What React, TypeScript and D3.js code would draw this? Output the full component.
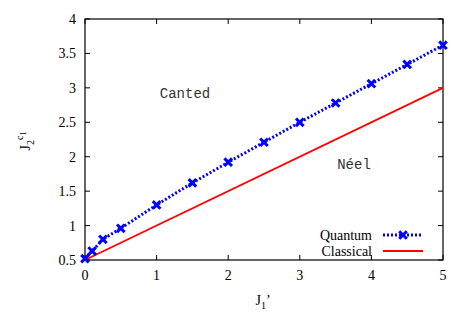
import React, { useRef, useEffect } from "react";
import * as d3 from "d3";

// J1' values and critical J2 (quantum result)
const quantumX = [0, 0.1, 0.25, 0.5, 1, 1.5, 2, 2.5, 3, 3.5, 4, 4.5, 5];
const quantumY = [0.52, 0.63, 0.8, 0.96, 1.3, 1.62, 1.92, 2.21, 2.5, 2.78, 3.06, 3.34, 3.62];

// classical line J2 = 0.5 + J1'/2
const classicalX = [0, 5];
const classicalY = [0.5, 3];

const xTicks = [0, 1, 2, 3, 4, 5];
const yTicks = [0.5, 1, 1.5, 2, 2.5, 3, 3.5, 4];

function App() {
  const svgRef = useRef<SVGSVGElement>(null);

  useEffect(() => {
    const svg = d3.select(svgRef.current);
    svg.selectAll("*").remove();

    const width = 467;
    const height = 327;
    const left = 85, right = 443, top = 19, bottom = 260;

    const x = d3.scaleLinear().domain([0, 5]).range([left, right]);
    const y = d3.scaleLinear().domain([0.5, 4]).range([bottom, top]);

    const serif = '"Liberation Serif", "Times New Roman", "DejaVu Serif", serif';
    const mono = '"Liberation Mono", "Courier New", monospace';

    svg.attr("width", width).attr("height", height);
    svg.append("rect").attr("width", width).attr("height", height).attr("fill", "white");

    // ticks (inward, mirrored)
    const tickLen = 5;
    xTicks.forEach((t) => {
      svg.append("line").attr("x1", x(t)).attr("x2", x(t))
        .attr("y1", bottom).attr("y2", bottom - tickLen).attr("stroke", "#000");
      svg.append("line").attr("x1", x(t)).attr("x2", x(t))
        .attr("y1", top).attr("y2", top + tickLen).attr("stroke", "#000");
      svg.append("text").attr("x", x(t)).attr("y", bottom + 20)
        .attr("text-anchor", "middle").style("font-family", serif)
        .style("font-size", "14px").attr("fill", "#000").text(t);
    });
    yTicks.forEach((t) => {
      svg.append("line").attr("x1", left).attr("x2", left + tickLen)
        .attr("y1", y(t)).attr("y2", y(t)).attr("stroke", "#000");
      svg.append("line").attr("x1", right).attr("x2", right - tickLen)
        .attr("y1", y(t)).attr("y2", y(t)).attr("stroke", "#000");
      svg.append("text").attr("x", left - 9).attr("y", y(t) + 5)
        .attr("text-anchor", "end").style("font-family", serif)
        .style("font-size", "14px").attr("fill", "#000").text(t);
    });

    // frame
    svg.append("rect").attr("x", left).attr("y", top)
      .attr("width", right - left).attr("height", bottom - top)
      .attr("fill", "none").attr("stroke", "#000").attr("stroke-width", 1.2);

    // axis labels
    const xl = svg.append("text").attr("x", 263).attr("y", 305)
      .attr("text-anchor", "middle").style("font-family", serif)
      .style("font-size", "14px").attr("fill", "#000");
    xl.append("tspan").text("J");
    xl.append("tspan").style("font-size", "10px").attr("dy", 4).text("1");
    xl.append("tspan").attr("dy", -4).text("’");

    const yl = svg.append("text")
      .attr("transform", "translate(30,141) rotate(-90)")
      .attr("text-anchor", "middle").style("font-family", serif)
      .style("font-size", "14px").attr("fill", "#000");
    yl.append("tspan").text("J");
    yl.append("tspan").style("font-size", "10px").attr("dy", 4).text("2");
    yl.append("tspan").style("font-size", "10px").attr("dy", -11).text("c");
    yl.append("tspan").style("font-size", "8px").attr("dy", 3).text("1");

    // region labels
    svg.append("text").attr("x", 185).attr("y", 98).attr("text-anchor", "middle")
      .style("font-family", mono).style("font-size", "14px").attr("fill", "#333").text("Canted");
    svg.append("text").attr("x", 354).attr("y", 169).attr("text-anchor", "middle")
      .style("font-family", mono).style("font-size", "14px").attr("fill", "#333").text("Néel");

    const lineGen = d3.line<[number, number]>().x((d) => x(d[0])).y((d) => y(d[1]));

    // classical line
    svg.append("path")
      .datum(classicalX.map((v, i) => [v, classicalY[i]] as [number, number]))
      .attr("d", lineGen)
      .attr("fill", "none").attr("stroke", "#ff0000").attr("stroke-width", 1.8);

    // quantum line
    const qData = quantumX.map((v, i) => [v, quantumY[i]] as [number, number]);
    svg.append("path")
      .datum(qData)
      .attr("d", lineGen)
      .attr("fill", "none").attr("stroke", "#0000ff").attr("stroke-width", 3)
      .attr("stroke-dasharray", "2,2");

    const cross = (g: any, cx: number, cy: number, s: number) => {
      g.append("path")
        .attr("d", `M${cx - s},${cy - s}L${cx + s},${cy + s}M${cx - s},${cy + s}L${cx + s},${cy - s}`)
        .attr("stroke", "#0000ff").attr("stroke-width", 3).attr("fill", "none");
    };
    qData.forEach((d) => cross(svg, x(d[0]), y(d[1]), 3.8));

    // legend
    svg.append("text").attr("x", 372).attr("y", 240).attr("text-anchor", "end")
      .style("font-family", serif).style("font-size", "14px").attr("fill", "#000").text("Quantum");
    svg.append("text").attr("x", 372).attr("y", 256).attr("text-anchor", "end")
      .style("font-family", serif).style("font-size", "14px").attr("fill", "#000").text("Classical");
    svg.append("line").attr("x1", 383).attr("x2", 423).attr("y1", 235).attr("y2", 235)
      .attr("stroke", "#0000ff").attr("stroke-width", 3).attr("stroke-dasharray", "2,2");
    cross(svg, 403, 235, 3.8);
    svg.append("line").attr("x1", 383).attr("x2", 423).attr("y1", 251).attr("y2", 251)
      .attr("stroke", "#ff0000").attr("stroke-width", 1.8);
  }, []);

  return <svg ref={svgRef} style={{ display: "block", position: "absolute", left: 0, top: 0 }}></svg>;
}

export default App;
